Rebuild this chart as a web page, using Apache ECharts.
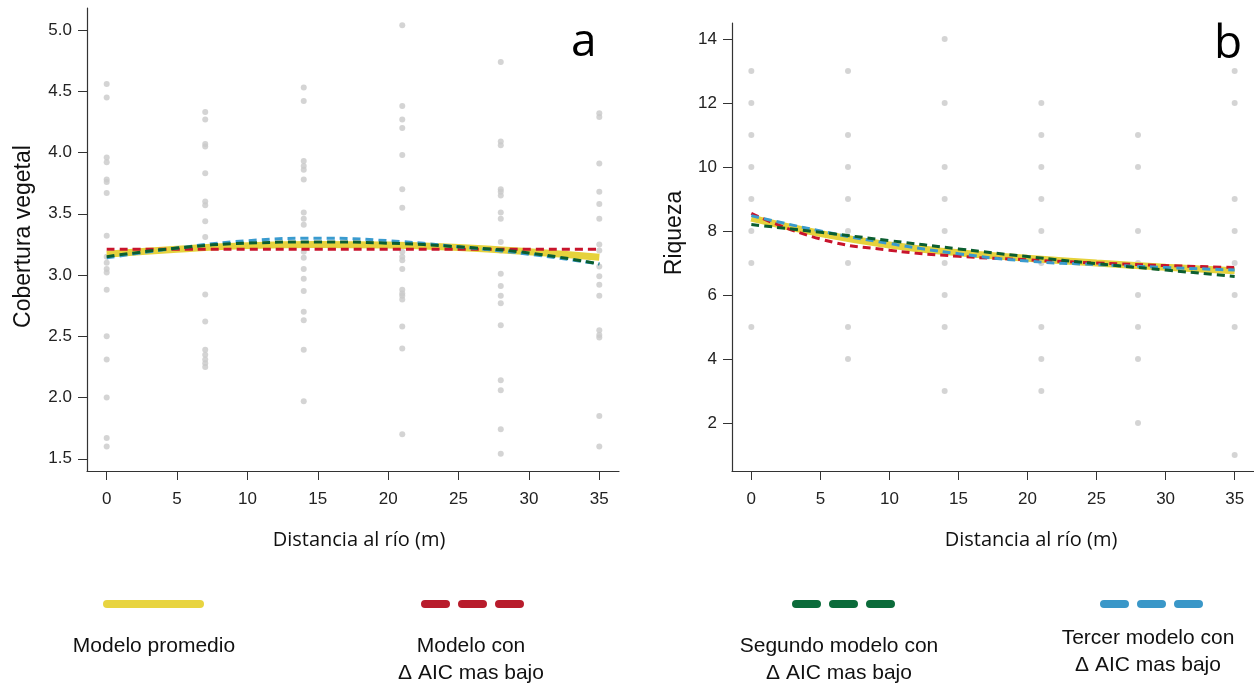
<!DOCTYPE html>
<html>
<head>
<meta charset="utf-8">
<title>Cobertura vegetal y riqueza</title>
<script src="https://cdn.jsdelivr.net/npm/echarts@6/dist/echarts.min.js"></script>
<style>
  html, body { margin: 0; padding: 0; background: #fff; }
  #chart { width: 1254px; height: 685px; }
</style>
</head>
<body>
<div id="chart"></div>
<script>
// distancias de muestreo (m)
var distancias = [0, 7, 14, 21, 28, 35];
// observaciones, una lista por distancia
var coberturaObs = [
  [4.56, 4.45, 3.96, 3.92, 3.78, 3.76, 3.67, 3.32, 3.15, 3.10, 3.05, 3.02, 2.88, 2.50, 2.31, 2.00, 1.67, 1.60],
  [4.33, 4.27, 4.07, 4.05, 3.83, 3.60, 3.57, 3.44, 3.31, 3.22, 2.84, 2.62, 2.39, 2.35, 2.31, 2.28, 2.25],
  [4.53, 4.42, 3.93, 3.89, 3.86, 3.78, 3.51, 3.46, 3.41, 3.19, 3.14, 3.05, 2.97, 2.87, 2.70, 2.63, 2.39, 1.97],
  [5.04, 4.38, 4.27, 4.20, 3.98, 3.70, 3.55, 3.24, 3.19, 3.15, 3.12, 3.05, 2.88, 2.85, 2.83, 2.80, 2.58, 2.40, 1.70],
  [4.74, 4.09, 4.06, 3.70, 3.68, 3.65, 3.51, 3.46, 3.27, 3.20, 3.01, 2.91, 2.83, 2.77, 2.59, 2.14, 2.06, 1.74, 1.54],
  [4.32, 4.29, 3.91, 3.68, 3.58, 3.46, 3.25, 3.20, 3.07, 2.99, 2.92, 2.83, 2.55, 2.51, 2.49, 1.85, 1.60]
];
var riquezaObs = [
  [13, 12, 11, 10, 9, 8, 7, 5],
  [13, 11, 10, 9, 8, 7, 5, 4],
  [14, 12, 10, 9, 8, 7, 6, 5, 3],
  [12, 11, 10, 9, 8, 7, 5, 4, 3],
  [11, 10, 8, 7, 6, 5, 4, 2],
  [13, 12, 9, 8, 7, 6, 5, 1]
];

// curvas ajustadas
var curvaX = [0, 5, 10, 15, 20, 25, 30, 35];
var coberturaProm = [3.17, 3.21, 3.24, 3.25, 3.245, 3.225, 3.19, 3.145];
var coberturaMod1 = [3.21, 3.21, 3.21, 3.21, 3.21, 3.21, 3.21, 3.21];
var coberturaMod2 = [3.15, 3.22, 3.26, 3.27, 3.26, 3.23, 3.18, 3.09];
var coberturaMod3 = [3.14, 3.22, 3.28, 3.30, 3.28, 3.23, 3.17, 3.09];
var riquezaProm = [8.40, 7.92, 7.56, 7.32, 7.15, 7.00, 6.87, 6.76];
var riquezaMod1 = [8.55, 7.75, 7.40, 7.21, 7.10, 7.00, 6.92, 6.86];
var riquezaMod2 = [8.20, 7.96, 7.70, 7.44, 7.20, 6.98, 6.78, 6.58];
var riquezaMod3 = [8.48, 8.00, 7.61, 7.29, 7.06, 6.95, 6.86, 6.78];

// marcas de los ejes
var xTicks = [0, 5, 10, 15, 20, 25, 30, 35];
var coberturaTicks = [1.5, 2.0, 2.5, 3.0, 3.5, 4.0, 4.5, 5.0];
var riquezaTicks = [2, 4, 6, 8, 10, 12, 14];

var AMARILLO = '#e6d23c', ROJO = '#c8142c', VERDE = '#0b5e30', AZUL = '#3a9bcf';
var GRIS = '#c9c9c9', EJE = '#333';

function puntos(obs) {
  var out = [];
  obs.forEach(function (lista, i) {
    lista.forEach(function (v) { out.push([distancias[i], v]); });
  });
  return out;
}
function pares(ys) {
  return curvaX.map(function (x, i) { return [x, ys[i]]; });
}

function ejeX(idx, pad) {
  return {
    type: 'value', gridIndex: idx, min: -1.4, max: 36.4,
    name: 'Distancia al río (m)', nameLocation: 'middle', nameGap: 59,
    nameTextStyle: { fontFamily: 'Open Sans', fontSize: 20, color: '#111', padding: pad },
    splitLine: { show: false },
    axisLine: { onZero: false, lineStyle: { color: EJE, width: 1.2 } },
    axisTick: { length: 9, lineStyle: { color: EJE }, customValues: xTicks },
    axisLabel: { customValues: xTicks, margin: 20, fontFamily: 'Liberation Sans', fontSize: 17, color: '#222' }
  };
}
function ejeY(idx, min, max, ticks, name, gap, pad, fmt) {
  return {
    type: 'value', gridIndex: idx, min: min, max: max,
    name: name, nameLocation: 'middle', nameGap: gap,
    nameTextStyle: { fontFamily: 'Liberation Sans', fontSize: 23, color: '#111', padding: pad },
    splitLine: { show: false },
    axisLine: { show: true, onZero: false, lineStyle: { color: EJE, width: 1.2 } },
    axisTick: { show: true, length: 9, lineStyle: { color: EJE }, customValues: ticks },
    axisLabel: { customValues: ticks, margin: 15, fontFamily: 'Liberation Sans', fontSize: 17, color: '#222', formatter: fmt }
  };
}
function curva(idx, ys, color, width, dash, z) {
  return {
    type: 'line', xAxisIndex: idx, yAxisIndex: idx, data: pares(ys),
    smooth: 0.5, symbol: 'none', z: z, silent: true,
    lineStyle: { color: color, width: width, type: dash, cap: 'butt' }
  };
}

var chart = echarts.init(document.getElementById('chart'));
var option = {
  animation: false,
  backgroundColor: '#fff',
  grid: [
    { left: 87, top: 8, width: 532, height: 463 },
    { left: 732, top: 23, width: 522, height: 448 }
  ],
  xAxis: [ejeX(0, [0, 0, 0, 12]), ejeX(1, [0, 0, 0, 76])],
  yAxis: [
    ejeY(0, 1.4, 5.18, coberturaTicks, 'Cobertura vegetal', 52, [0, 0, 0, 6], function (v) { return v.toFixed(1); }),
    ejeY(1, 0.5, 14.5, riquezaTicks, 'Riqueza', 46, [0, 0, 0, 28], function (v) { return String(v); })
  ],
  series: [
    { type: 'scatter', xAxisIndex: 0, yAxisIndex: 0, data: puntos(coberturaObs), symbolSize: 6, itemStyle: { color: GRIS }, z: 1, silent: true },
    curva(0, coberturaProm, AMARILLO, 7, 'solid', 2),
    curva(0, coberturaMod1, ROJO, 3, [8, 5], 3),
    curva(0, coberturaMod3, AZUL, 3, [8, 5], 4),
    curva(0, coberturaMod2, VERDE, 3, [8, 5], 5),
    { type: 'scatter', xAxisIndex: 1, yAxisIndex: 1, data: puntos(riquezaObs), symbolSize: 6, itemStyle: { color: GRIS }, z: 1, silent: true },
    curva(1, riquezaProm, AMARILLO, 7, 'solid', 2),
    curva(1, riquezaMod1, ROJO, 3, [8, 5], 3),
    curva(1, riquezaMod3, AZUL, 3, [8, 5], 4),
    curva(1, riquezaMod2, VERDE, 3, [8, 5], 5)
  ],
  graphic: [
    { type: 'text', left: 571, top: 20, style: { text: 'a', fontFamily: 'Open Sans', fontSize: 46, fill: '#000' } },
    { type: 'text', left: 1214, top: 22, style: { text: 'b', fontFamily: 'Open Sans', fontSize: 46, fill: '#000' } },
    // leyenda
    { type: 'line', shape: { x1: 107, y1: 604, x2: 200, y2: 604 }, style: { stroke: '#e8d440', lineWidth: 8, lineCap: 'round' } },
    { type: 'line', shape: { x1: 425, y1: 604, x2: 520, y2: 604 }, style: { stroke: '#b81c2c', lineWidth: 8, lineCap: 'round', lineDash: [21, 16] } },
    { type: 'line', shape: { x1: 796, y1: 604, x2: 891, y2: 604 }, style: { stroke: '#0b6b3a', lineWidth: 8, lineCap: 'round', lineDash: [21, 16] } },
    { type: 'line', shape: { x1: 1104, y1: 604, x2: 1199, y2: 604 }, style: { stroke: '#3a97c8', lineWidth: 8, lineCap: 'round', lineDash: [21, 16] } },
    { type: 'text', x: 154, y: 646, style: { text: 'Modelo promedio', fontFamily: 'Liberation Sans', fontSize: 21, fill: '#111', align: 'center', verticalAlign: 'middle' } },
    { type: 'text', x: 471, y: 660, style: { text: 'Modelo con\nΔ AIC mas bajo', fontFamily: 'Liberation Sans', fontSize: 21, lineHeight: 27, fill: '#111', align: 'center', verticalAlign: 'middle' } },
    { type: 'text', x: 839, y: 660, style: { text: 'Segundo modelo con\nΔ AIC mas bajo', fontFamily: 'Liberation Sans', fontSize: 21, lineHeight: 27, fill: '#111', align: 'center', verticalAlign: 'middle' } },
    { type: 'text', x: 1148, y: 652, style: { text: 'Tercer modelo con\nΔ AIC mas bajo', fontFamily: 'Liberation Sans', fontSize: 21, lineHeight: 27, fill: '#111', align: 'center', verticalAlign: 'middle' } }
  ]
};
chart.setOption(option);
window.onresize = chart.resize;
</script>
</body>
</html>
